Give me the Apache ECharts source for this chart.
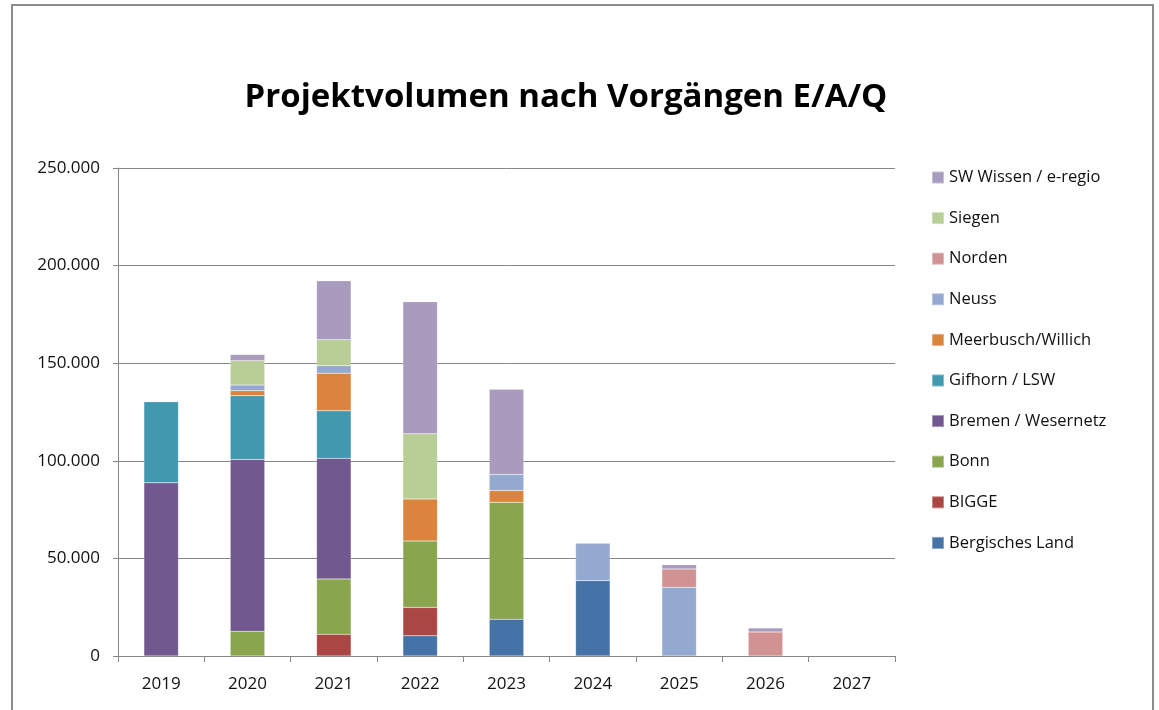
<!DOCTYPE html>
<html>
<head>
<meta charset="utf-8">
<script src="https://cdn.jsdelivr.net/npm/echarts@6/dist/echarts.min.js"></script>
<style>
  html, body { margin: 0; padding: 0; background: #fff; }
  #chart { width: 1159px; height: 710px; }
</style>
</head>
<body>
<div id="chart"></div>
<script>
// years on the x axis
var years = ['2019', '2020', '2021', '2022', '2023', '2024', '2025', '2026', '2027'];

// one array per project, values per year
var bergischesLand = [0, 0, 0, 10400, 18800, 38600, 0, 0, 0];
var bigge          = [0, 0, 11100, 14500, 0, 0, 0, 0, 0];
var bonn           = [0, 12600, 28400, 34000, 60000, 0, 0, 0, 0];
var bremen         = [88700, 88100, 61800, 0, 0, 0, 0, 0, 0];
var gifhorn        = [41600, 32600, 24300, 0, 0, 0, 0, 0, 0];
var meerbusch      = [0, 2600, 19300, 21500, 6000, 0, 0, 0, 0];
var neuss          = [0, 2900, 3800, 0, 8200, 19100, 35200, 0, 0];
var norden         = [0, 0, 0, 0, 0, 0, 9400, 12300, 0];
var siegen         = [0, 12500, 13300, 33500, 0, 0, 0, 0, 0];
var swWissen       = [0, 3200, 30200, 67600, 43700, 0, 2200, 2000, 0];

var seriesDefs = [
    { name: 'Bergisches Land', data: bergischesLand, color: '#4572a7' },
    { name: 'BIGGE', data: bigge, color: '#aa4643' },
    { name: 'Bonn', data: bonn, color: '#89a54e' },
    { name: 'Bremen / Wesernetz', data: bremen, color: '#71588f' },
    { name: 'Gifhorn / LSW', data: gifhorn, color: '#4198af' },
    { name: 'Meerbusch/Willich', data: meerbusch, color: '#db843d' },
    { name: 'Neuss', data: neuss, color: '#93a9cf' },
    { name: 'Norden', data: norden, color: '#d19392' },
    { name: 'Siegen', data: siegen, color: '#b9cd96' },
    { name: 'SW Wissen / e-regio', data: swWissen, color: '#a99bbd' }
];

var font = '"Open Sans", "Liberation Sans", sans-serif';

var myChart = echarts.init(document.getElementById('chart'));

var option = {
    backgroundColor: '#fff',
    animation: false,
    title: {
        text: 'Projektvolumen nach Vorgängen E/A/Q',
        left: 561,
        textAlign: 'center',
        top: 76,
        textStyle: {
            fontFamily: font,
            fontWeight: 'bold',
            fontSize: 33,
            color: '#000'
        }
    },
    graphic: [{
        type: 'rect',
        shape: { x: 12, y: 5, width: 1141, height: 720 },
        style: { fill: 'none', stroke: '#8c8c8c', lineWidth: 2 },
        silent: true
    }],
    legend: {
        orient: 'vertical',
        left: 926,
        top: 164,
        itemWidth: 12,
        itemHeight: 12,
        itemGap: 23.6,
        icon: 'rect',
        data: seriesDefs.map(function (s) { return s.name; }).reverse(),
        textStyle: {
            fontFamily: font,
            fontSize: 16.5,
            color: '#111'
        }
    },
    grid: {
        left: 118,
        right: 264,
        top: 168,
        bottom: 54
    },
    xAxis: {
        type: 'category',
        data: years,
        axisLine: { lineStyle: { color: '#868686', width: 1 } },
        axisTick: { show: true, length: 6, lineStyle: { color: '#868686' } },
        axisLabel: {
            fontFamily: font,
            fontSize: 17,
            color: '#111',
            margin: 20
        }
    },
    yAxis: {
        type: 'value',
        min: 0,
        max: 250000,
        interval: 50000,
        axisLine: { show: true, lineStyle: { color: '#868686', width: 1 } },
        axisTick: { show: true, length: 5, lineStyle: { color: '#868686' } },
        splitLine: { lineStyle: { color: '#868686', width: 1 } },
        axisLabel: {
            fontFamily: font,
            fontSize: 17,
            color: '#111',
            margin: 18,
            formatter: function (v) {
                return String(v).replace(/\B(?=(\d{3})+(?!\d))/g, '.');
            }
        }
    },
    series: seriesDefs.map(function (s) {
        return {
            name: s.name,
            type: 'bar',
            stack: 'total',
            barWidth: '40%',
            data: s.data.map(function (v) { return v === 0 ? null : v; }),
            itemStyle: {
                color: s.color,
                borderColor: 'rgba(255,255,255,0.35)',
                borderWidth: 0.5
            }
        };
    })
};

myChart.setOption(option);
</script>
</body>
</html>
